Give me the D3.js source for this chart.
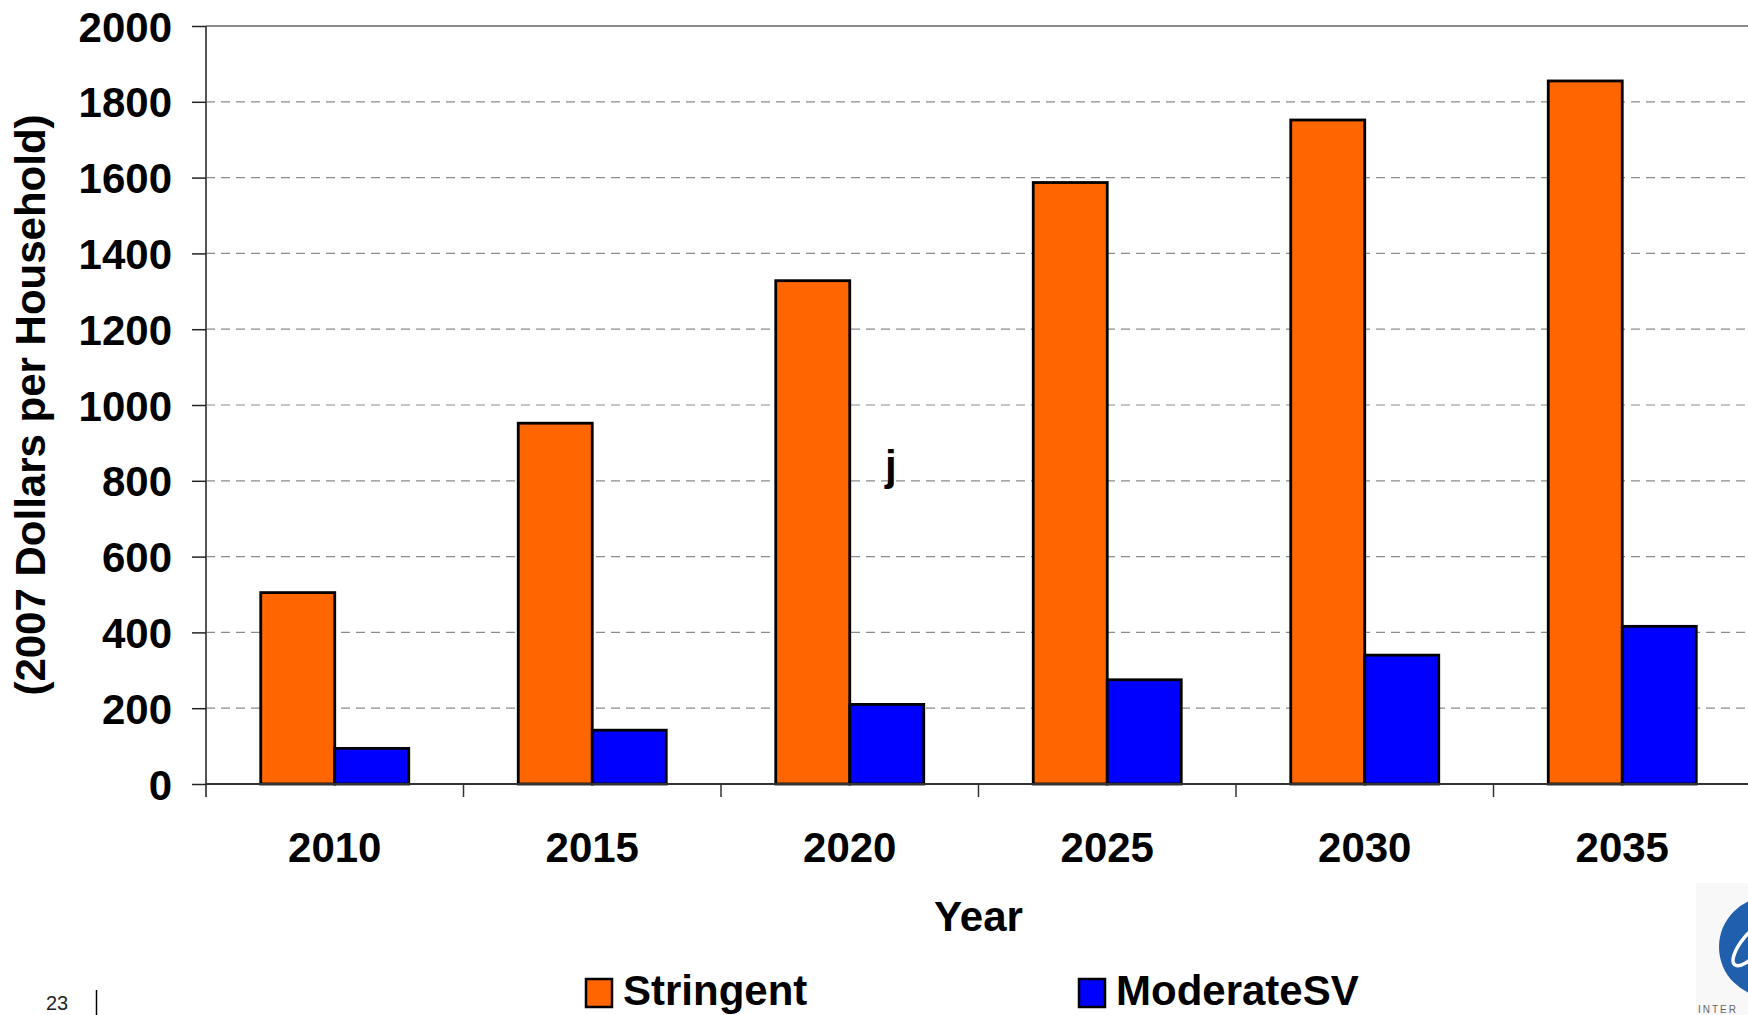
<!DOCTYPE html>
<html>
<head>
<meta charset="utf-8">
<script src="https://cdn.jsdelivr.net/npm/d3@7"></script>
<style>
  html, body { margin: 0; padding: 0; background: #fff; }
  svg { display: block; }
  text { font-family: "Liberation Sans", Arial, sans-serif; }
</style>
</head>
<body>
<svg id="chart" width="1748" height="1015"></svg>
<script>
// Annual cost per household under two policy scenarios
const years = ["2010", "2015", "2020", "2025", "2030", "2035"];
const seriesNames = ["Stringent", "ModerateSV"];
const stringent = [505, 952, 1328, 1587, 1752, 1855];
const moderateSV = [94, 142, 210, 275, 340, 416];
const yTicks = [0, 200, 400, 600, 800, 1000, 1200, 1400, 1600, 1800, 2000];
const seriesColors = ["#FF6600", "#0000FF"];

const svg = d3.select("#chart");

const plotLeft = 206, plotRight = 1751, plotTop = 26, plotBottom = 784;

const x0 = d3.scaleBand().domain(years).range([plotLeft, plotRight]).padding(0);
const barW = 74;
const x1 = d3.scaleBand().domain(seriesNames)
  .range([x0.bandwidth() / 2 - barW, x0.bandwidth() / 2 + barW])
  .padding(0);
const y = d3.scaleLinear().domain([0, 2000]).range([plotBottom, plotTop]);
const color = d3.scaleOrdinal().domain(seriesNames).range(seriesColors);

// Dashed gridlines
svg.append("g")
  .selectAll("line")
  .data(yTicks.filter(t => t > 0 && t < 2000))
  .join("line")
  .attr("x1", plotLeft).attr("x2", plotRight)
  .attr("y1", d => y(d)).attr("y2", d => y(d))
  .attr("stroke", "#8c8c8c")
  .attr("stroke-width", 1.2)
  .attr("stroke-dasharray", "9,6");

// Top border of plot area
svg.append("line")
  .attr("x1", plotLeft).attr("x2", plotRight)
  .attr("y1", y(2000)).attr("y2", y(2000))
  .attr("stroke", "#8a8a8a").attr("stroke-width", 2);

// Bars
const rows = years.map((yr, i) => ({ year: yr, values: [
  { key: "Stringent", value: stringent[i] },
  { key: "ModerateSV", value: moderateSV[i] }
]}));

const groups = svg.append("g").selectAll("g")
  .data(rows).join("g")
  .attr("transform", d => `translate(${x0(d.year)},0)`);

groups.selectAll("rect")
  .data(d => d.values).join("rect")
  .attr("x", d => x1(d.key))
  .attr("width", x1.bandwidth())
  .attr("y", d => y(d.value))
  .attr("height", d => y(0) - y(d.value))
  .attr("fill", d => color(d.key))
  .attr("stroke", "#000")
  .attr("stroke-width", 2.8);

// Y axis
const yAxis = svg.append("g")
  .attr("transform", `translate(${plotLeft},0)`)
  .call(d3.axisLeft(y).tickValues(yTicks).tickFormat(d3.format("d")).tickSize(14).tickPadding(20));
yAxis.select(".domain").attr("stroke", "#555").attr("stroke-width", 2)
  .attr("d", `M0,${plotTop}V${plotBottom + 13}`);
yAxis.selectAll(".tick line").attr("stroke", "#222").attr("stroke-width", 1.5);
yAxis.selectAll(".tick text")
  .attr("font-size", 42).attr("font-weight", "bold").attr("fill", "#000")
  .attr("dy", "0.36em");

// X axis
const xAxis = svg.append("g")
  .attr("transform", `translate(0,${plotBottom})`)
  .call(d3.axisBottom(x0).tickSize(0).tickPadding(0));
xAxis.select(".domain").attr("stroke", "#333").attr("stroke-width", 2)
  .attr("d", `M${plotLeft},0H${plotRight}`);
xAxis.selectAll(".tick text")
  .attr("font-size", 42).attr("font-weight", "bold").attr("fill", "#000")
  .attr("y", 78).attr("dy", 0);

// Category boundary ticks
svg.append("g").selectAll("line")
  .data(years.slice(1))
  .join("line")
  .attr("x1", d => x0(d)).attr("x2", d => x0(d))
  .attr("y1", plotBottom).attr("y2", plotBottom + 13)
  .attr("stroke", "#333").attr("stroke-width", 1.5);

// Axis titles
svg.append("text")
  .attr("x", (plotLeft + plotRight) / 2).attr("y", 931)
  .attr("text-anchor", "middle")
  .attr("font-size", 42).attr("font-weight", "bold")
  .text("Year");

svg.append("text")
  .attr("transform", `translate(45,${(plotTop + plotBottom) / 2}) rotate(-90)`)
  .attr("text-anchor", "middle")
  .attr("font-size", 42).attr("font-weight", "bold")
  .text("(2007 Dollars per Household)");

// Stray mark inside the plot
svg.append("text")
  .attr("x", 885).attr("y", 480)
  .attr("font-size", 42).attr("font-weight", "bold")
  .text("j");

// Legend
const legendItems = [
  { key: "Stringent", x: 586, tx: 623 },
  { key: "ModerateSV", x: 1079, tx: 1116 }
];
const lg = svg.append("g").selectAll("g").data(legendItems).join("g");
lg.append("rect")
  .attr("x", d => d.x).attr("y", 979)
  .attr("width", 26).attr("height", 28)
  .attr("fill", d => color(d.key))
  .attr("stroke", "#000").attr("stroke-width", 2.5);
lg.append("text")
  .attr("x", d => d.tx).attr("y", 1005)
  .attr("font-size", 42).attr("font-weight", "bold")
  .text(d => d.key);

// Slide number and separator
svg.append("text")
  .attr("x", 46).attr("y", 1010)
  .attr("font-size", 20).attr("fill", "#222")
  .text("23");
svg.append("line")
  .attr("x1", 96.5).attr("x2", 96.5).attr("y1", 990).attr("y2", 1015)
  .attr("stroke", "#000").attr("stroke-width", 1.5);

// Corner logo
const logo = svg.append("g");
logo.append("rect").attr("x", 1696).attr("y", 883).attr("width", 52).attr("height", 132)
  .attr("fill", "#f8f8f8");
logo.append("circle").attr("cx", 1769).attr("cy", 947).attr("r", 50).attr("fill", "#1f5fab");
logo.append("ellipse").attr("cx", 1752).attr("cy", 944).attr("rx", 27).attr("ry", 10)
  .attr("transform", "rotate(-50,1752,944)")
  .attr("fill", "none").attr("stroke", "#fff").attr("stroke-width", 3.5);
logo.append("text").attr("x", 1698).attr("y", 1013)
  .attr("font-size", 10).attr("fill", "#666").attr("letter-spacing", 2)
  .text("INTER");
</script>
</body>
</html>
